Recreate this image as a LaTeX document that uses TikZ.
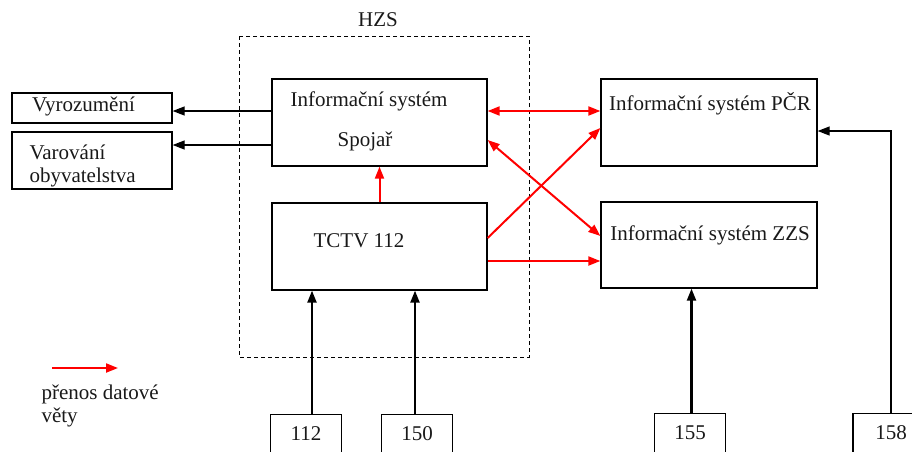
\documentclass[tikz,border=0pt]{standalone}
\usepackage{fontspec}
\setmainfont{Liberation Serif}
\usetikzlibrary{arrows.meta}

\begin{document}
\begin{tikzpicture}[x=1pt,y=-1pt,
  every node/.style={font=\fontsize{21}{25}\selectfont, text=black!90},
  box/.style={draw, line width=1.3pt, inner sep=0pt},
  numbox/.style={draw, line width=1.3pt, minimum width=71pt, inner ysep=6pt,
                 text height=20pt, text depth=30pt, anchor=north},
  feed/.style={line width=1.3pt, -{Triangle[length=12pt,width=9pt]}},
  call/.style={line width=2.2pt, -{Triangle[length=12pt,width=9pt]}},
  data/.style={red, line width=2pt, -{Triangle[length=12pt,width=9pt]}},
  both/.style={data, {Triangle[length=12pt,width=9pt]}-{Triangle[length=12pt,width=9pt]}}]
\useasboundingbox (0,0) rectangle (912,451);
\clip (0,0) rectangle (912,451);
% HZS frame
\draw[line width=1pt, dash pattern=on 4pt off 3pt] (239,36) rectangle (529,357);
\node (hzs) at (378,20) {HZS};
% boxes
\node[box, minimum width=215pt, minimum height=87pt] (spojar) at (379.5,122.5) {};
\node (spojar1) at (369,101) {Informační systém};
\node (spojar2) at (365,141) {Spojař};
\node[box, minimum width=215pt, minimum height=87pt] (tctv) at (379.5,246.5) {};
\node (tctvtxt) at (359,241) {TCTV 112};
\node[box, minimum width=216pt, minimum height=87pt] (pcr) at (709,122.5) {};
\node (pcrtxt) at (710,104) {Informační systém PČR};
\node[box, minimum width=216pt, minimum height=86pt] (zzs) at (709,245) {};
\node (zzstxt) at (710,235) {Informační systém ZZS};
\node[box, minimum width=160pt, minimum height=30pt] (vyroz) at (92,108) {};
\node (vyroztxt) at (83.5,106) {Vyrozumění};
\node[box, minimum width=160pt, minimum height=57pt] (varov) at (92,160.5) {};
\node[align=left, anchor=west, font=\fontsize{21}{23}\selectfont] (varovtxt) at (26,166) {Varování\\obyvatelstva};
% tisňová čísla
\node[numbox] (n112) at (306,414) {112};
\node[numbox] (n150) at (417,414) {150};
\node[numbox] (n155) at (690,413) {155};
\node[numbox, minimum width=76pt] (n158) at (891,413) {158};
% vystupy Spojare
\draw[feed] ([yshift=11.5pt]spojar.west) -- ([yshift=11.5pt]spojar.west -| vyroz.east);
\draw[feed] ([yshift=-22.5pt]spojar.west) -- ([yshift=-22.5pt]spojar.west -| varov.east);
% datove vety
\draw[data] (tctv.north) -- (spojar.south);
\draw[both] ([yshift=11.5pt]spojar.east) -- ([yshift=11.5pt]spojar.east -| pcr.west);
\draw[both] ([yshift=-17.5pt]spojar.east) -- ([yshift=9pt]zzs.west);
\draw[data] ([yshift=8.5pt]tctv.east) -- ([yshift=-5.5pt]pcr.west);
\draw[data] ([yshift=-14.5pt]tctv.east) -- ([yshift=-14.5pt]tctv.east -| zzs.west);
% volani
\draw[call] ([xshift=6pt]n112.north) -- ([xshift=6pt]n112.north |- tctv.south);
\draw[call] ([xshift=-2pt]n150.north) -- ([xshift=-2pt]n150.north |- tctv.south);
\draw[call] ([xshift=1.5pt]n155.north) -- ([xshift=1.5pt]n155.north |- zzs.south);
\draw[feed] (n158.north) |- ([yshift=-8.5pt]pcr.east);
% legenda
\coordinate (legA) at (52,368);
\coordinate (legB) at (118,368);
\draw[data] (legA) -- (legB);
\node[align=left, anchor=west, font=\fontsize{21}{23}\selectfont] (legtxt) at (38,406) {přenos datové\\věty};
\end{tikzpicture}
\end{document}
